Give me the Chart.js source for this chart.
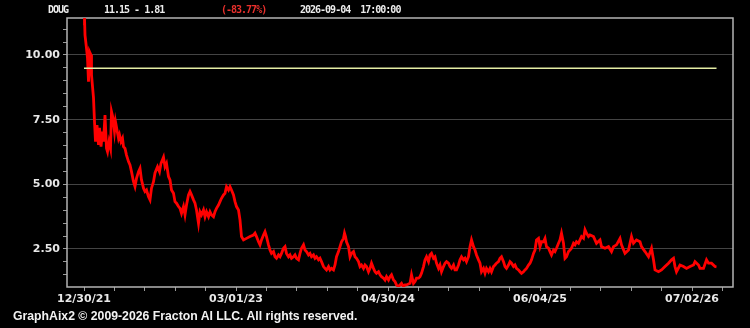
<!DOCTYPE html>
<html lang="en">
<head>
    <meta charset="UTF-8">
    <title>DOUG</title>
    <style>
        body {
            margin: 0;
            background: #000;
        }
        #wrap {
            position: relative;
            width: 750px;
            height: 328px;
            background: #000;
            overflow: hidden;
        }
        #chart {
            position: absolute;
            left: 0;
            top: 0;
        }
        .head {
            position: absolute;
            top: 3px;
            font-family: "DejaVu Sans Mono", monospace;
            font-weight: bold;
            font-size: 10px;
            line-height: 13px;
            letter-spacing: -1px;
            color: #ececec;
            white-space: pre;
        }
        #foot {
            position: absolute;
            left: 13px;
            top: 309px;
            font-family: "Liberation Sans", Arial, sans-serif;
            font-weight: bold;
            font-size: 12px;
            line-height: 14px;
            color: #f2f2f2;
            white-space: nowrap;
            transform-origin: left center;
        }
    </style>
    <script src="https://cdn.jsdelivr.net/npm/chart.js"></script>
</head>
<body>
<div id="wrap">
    <canvas id="chart" width="750" height="328"></canvas>
    <div class="head" style="left:48px">DOUG</div>
    <div class="head" style="left:104px">11.15 - 1.81</div>
    <div class="head" style="left:221px; color:#e8302c">(-83.77%)</div>
    <div class="head" style="left:300px">2026-09-04  17:00:00</div>
    <div id="foot">GraphAix2 © 2009-2026 Fracton AI LLC. All rights reserved.</div>
</div>

<script>
    // x = trading bar index, y = close price
    const bars = [
        0, 1, 2, 5, 7, 9, 11, 14, 15, 19, 21, 23, 26, 29, 31, 34, 37, 39, 42, 45,
        47, 50, 53, 55, 58, 61, 63, 66, 69, 71, 74, 77, 79, 82, 85, 89, 92, 95, 99, 102,
        105, 109, 112, 115, 119, 122, 125, 129, 132, 135, 139, 142, 147, 151, 154, 159, 162, 165, 169, 172,
        175, 179, 182, 185, 189, 192, 195, 199, 202, 205, 209, 212, 215, 219, 222, 225, 229, 232, 235, 239,
        242, 245, 249, 252, 255, 259, 262, 265, 269, 272, 275, 279, 282, 285, 289, 292, 295, 299, 302, 305,
        309, 312, 315, 319, 325, 332, 339, 342, 345, 349, 352, 355, 359, 362, 365, 369, 372, 375, 379, 382,
        385, 389, 392, 395, 399, 402, 405, 409, 412, 415, 419, 422, 425, 429, 432, 435, 439, 442, 445, 449,
        452, 455, 459, 462, 465, 469, 472, 475, 479, 482, 485, 489, 492, 495, 499, 502, 505, 509, 512, 515,
        519, 521, 523, 525, 529, 532, 535, 539, 542, 545, 549, 552, 555, 559, 562, 565, 569, 572, 575, 579,
        582, 585, 589, 592, 595, 599, 602, 605, 609, 612, 615, 619, 622, 625, 629, 632, 635, 639, 642, 645,
        652, 655, 659, 662, 665, 669, 672, 675, 679, 682, 685, 689, 692, 695, 699, 702, 705, 709, 712, 715,
        719, 722, 725, 729, 732, 735, 739, 742, 745, 749, 752, 755, 759, 762, 765, 769, 772, 775, 779, 782,
        785, 789, 792, 795, 799, 802, 805, 809, 812, 815, 819, 822, 825, 829, 832, 835, 839, 842, 845, 849,
        852, 855, 859, 862, 865, 869, 872, 875, 879, 882, 885, 889, 892, 895, 899, 902, 905, 909, 912, 915,
        919, 922, 925, 929, 932, 935, 939, 942, 945, 949, 952, 955, 959, 962, 965, 969, 972, 975, 979, 982,
        985, 989, 992, 995, 999, 1002, 1005, 1009, 1012, 1019, 1025, 1032, 1035, 1042, 1049, 1055, 1059, 1065, 1072, 1075,
        1082, 1089, 1095, 1099, 1105, 1112, 1115, 1122, 1129, 1135, 1139, 1142, 1149, 1155, 1162, 1169, 1175, 1179, 1182, 1185,
        1192, 1199, 1205, 1212, 1219, 1222, 1229, 1232, 1239, 1245, 1249, 1255, 1262, 1265
    ];
    const closes = [
        11.15, 11.45, 10.77, 10.26, 9.88, 8.97, 10.13, 10.00, 9.23, 8.34, 7.42, 6.65, 7.29, 6.52, 7.18, 6.46, 7.04, 6.65, 7.68, 6.39,
        6.26, 6.65, 6.39, 7.81, 7.56, 7.04, 7.42, 7.10, 6.78, 6.91, 6.65, 6.78, 6.46, 6.39, 6.13, 5.88, 5.75, 5.49, 5.10, 4.91,
        5.23, 5.49, 5.62, 5.17, 4.85, 4.72, 4.78, 4.52, 4.40, 4.85, 5.10, 5.44, 5.68, 5.49, 5.81, 6.05, 5.68, 5.81, 5.30, 5.17,
        4.78, 4.65, 4.33, 4.27, 4.14, 4.07, 3.88, 4.14, 3.82, 4.20, 4.59, 4.72, 4.59, 4.40, 4.27, 4.01, 3.49, 3.94, 3.82, 4.01,
        3.75, 3.94, 3.75, 3.94, 3.82, 3.75, 3.94, 4.07, 4.20, 4.33, 4.46, 4.59, 4.65, 4.91, 4.78, 4.91, 4.78, 4.59, 4.33, 4.14,
        4.01, 3.62, 2.98, 2.85, 2.91, 2.98, 3.04, 3.11, 2.98, 2.78, 2.66, 2.85, 3.04, 3.17, 2.98, 2.66, 2.46, 2.33, 2.40, 2.20,
        2.14, 2.27, 2.20, 2.33, 2.53, 2.59, 2.33, 2.20, 2.27, 2.14, 2.20, 2.27, 2.14, 2.08, 2.33, 2.53, 2.66, 2.46, 2.40, 2.27,
        2.33, 2.20, 2.27, 2.14, 2.20, 2.08, 2.14, 2.01, 1.82, 1.75, 1.69, 1.82, 1.69, 1.75, 1.69, 1.88, 2.20, 2.40, 2.59, 2.78,
        2.91, 3.11, 2.98, 2.78, 2.59, 2.20, 2.33, 2.40, 2.20, 2.14, 2.01, 1.82, 1.88, 1.75, 1.88, 1.82, 1.62, 1.75, 1.95, 1.75,
        1.62, 1.56, 1.62, 1.50, 1.43, 1.37, 1.30, 1.43, 1.30, 1.43, 1.50, 1.30, 1.24, 1.11, 1.04, 1.11, 1.17, 1.04, 1.11, 1.11,
        1.17, 1.50, 1.17, 1.24, 1.37, 1.37, 1.43, 1.56, 1.82, 2.08, 2.20, 2.01, 2.27, 2.33, 2.14, 2.20, 1.95, 1.75, 1.88, 1.62,
        1.82, 1.95, 2.01, 1.95, 1.82, 1.75, 1.88, 1.69, 1.69, 1.88, 2.08, 2.20, 2.08, 2.14, 2.01, 2.20, 2.59, 2.85, 2.59, 2.46,
        2.27, 2.08, 1.95, 1.62, 1.75, 1.56, 1.75, 1.62, 1.75, 1.62, 1.82, 1.88, 1.95, 2.01, 2.14, 2.20, 2.01, 1.82, 1.75, 1.88,
        2.01, 1.95, 1.82, 1.88, 1.75, 1.69, 1.62, 1.56, 1.62, 1.69, 1.75, 1.88, 1.95, 2.08, 2.33, 2.46, 2.85, 2.91, 2.59, 2.78,
        2.78, 2.91, 2.59, 2.53, 2.40, 2.27, 2.46, 2.40, 2.53, 2.72, 2.85, 3.11, 2.72, 2.14, 2.20, 2.40, 2.46, 2.53, 2.72, 2.66,
        2.78, 2.72, 2.85, 2.98, 2.91, 3.24, 3.11, 2.98, 3.04, 2.98, 2.72, 2.85, 2.59, 2.53, 2.59, 2.40, 2.59, 2.66, 2.91, 2.66,
        2.33, 2.46, 2.98, 2.72, 2.85, 2.78, 2.59, 2.40, 2.20, 2.53, 2.08, 1.69, 1.62, 1.69, 1.82, 1.95, 2.08, 2.14, 1.82, 1.62,
        1.88, 1.82, 1.75, 1.82, 1.88, 2.01, 1.88, 1.75, 1.75, 2.08, 1.95, 1.95, 1.82, 1.81
    ];

    // horizontal reference level (yellow)
    const refLevel = 9.49;
    const refFrom = 0;
    const refTo = 1265;

    const xTickLabels = ['12/30/21', '03/01/23', '04/30/24', '06/04/25', '07/02/26'];
    const xMajorStep = 304;   // bars between date labels
    const yMajorStep = 2.5;
    const yMinorStep = 0.5;

    const priceData = bars.map((b, i) => ({ x: b, y: closes[i] }));
    const refData = [{ x: refFrom, y: refLevel }, { x: refTo, y: refLevel }];

    const labelFont = { family: 'DejaVu Sans', size: 11, weight: 'bold' };

    function isMajorY(v) {
        return Math.abs(v / yMajorStep - Math.round(v / yMajorStep)) < 1e-6;
    }

    // box around the plot area
    const frame = {
        id: 'frame',
        beforeDatasetsDraw(chart) {
            const a = chart.chartArea;
            const ctx = chart.ctx;
            ctx.save();
            ctx.strokeStyle = '#b4b4b4';
            ctx.lineWidth = 1.5;
            ctx.strokeRect(a.left, a.top, a.right - a.left, a.bottom - a.top);
            ctx.restore();
        }
    };

    new Chart(document.getElementById('chart'), {
        type: 'line',
        data: {
            datasets: [
                {
                    data: refData,
                    borderColor: '#e4eca4',
                    borderWidth: 1.5,
                    pointRadius: 0
                },
                {
                    data: priceData,
                    borderColor: '#ff0000',
                    borderWidth: 2.8,
                    pointRadius: 0,
                    tension: 0
                }
            ]
        },
        options: {
            responsive: false,
            devicePixelRatio: 1,
            animation: false,
            layout: { padding: { top: 18, right: 17, left: 0, bottom: 0 } },
            plugins: {
                legend: { display: false },
                tooltip: { enabled: false }
            },
            scales: {
                x: {
                    type: 'linear',
                    min: -34,
                    max: 1298,
                    afterBuildTicks(scale) {
                        const t = [];
                        for (let k = 0; k * xMajorStep / 5 <= scale.max; k++) {
                            t.push({ value: k * xMajorStep / 5 });
                        }
                        scale.ticks = t;
                    },
                    afterFit(scale) { scale.height = 41; },
                    ticks: {
                        autoSkip: false,
                        maxRotation: 0,
                        padding: 2,
                        color: '#e8e8e8',
                        font: labelFont,
                        callback(value) {
                            const k = Math.round(value / (xMajorStep / 5));
                            return k % 5 === 0 ? (xTickLabels[k / 5] || '') : '';
                        }
                    },
                    grid: {
                        drawOnChartArea: false,
                        tickLength: 4,
                        tickColor: '#9a9a9a'
                    },
                    border: { display: false }
                },
                y: {
                    min: 1.03,
                    max: 11.43,
                    afterBuildTicks(scale) {
                        const t = [];
                        for (let k = 3; k <= 22; k++) t.push({ value: k * yMinorStep });
                        scale.ticks = t;
                    },
                    afterFit(scale) { scale.width = 67; },
                    ticks: {
                        autoSkip: false,
                        padding: 3,
                        color: '#e8e8e8',
                        font: labelFont,
                        callback(value) {
                            return isMajorY(value) ? value.toFixed(2) : '';
                        }
                    },
                    grid: {
                        color(ctx) {
                            const v = ctx.tick ? ctx.tick.value : 0;
                            return isMajorY(v) ? '#444444' : 'rgba(0,0,0,0)';
                        },
                        lineWidth: 1,
                        tickLength: 4,
                        tickColor: '#9a9a9a'
                    },
                    border: { display: false }
                }
            }
        },
        plugins: [frame]
    });

    // squeeze the footer to the width it has in the original
    const foot = document.getElementById('foot');
    foot.style.transform = 'scaleX(' + (344 / foot.offsetWidth) + ')';
</script>
</body>
</html>
